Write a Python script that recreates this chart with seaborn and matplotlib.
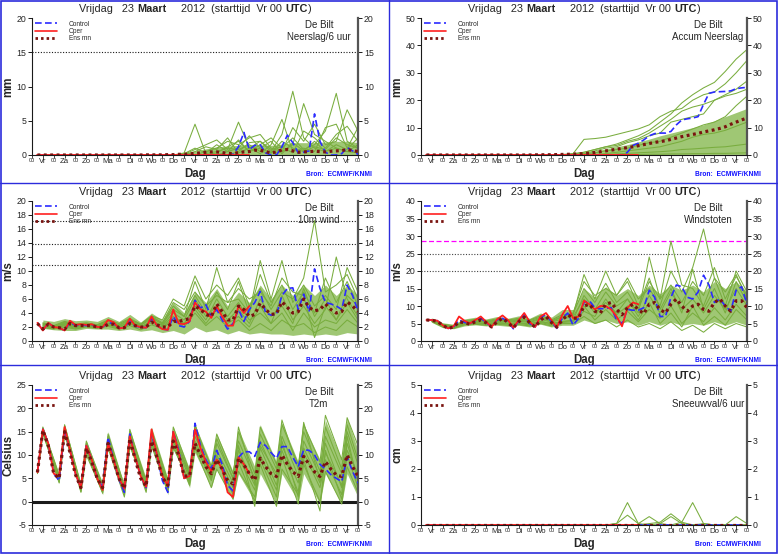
import numpy as np
import matplotlib
matplotlib.use("Agg")
import matplotlib.pyplot as plt
from matplotlib.lines import Line2D
import seaborn as sns

# --- time axes: days after Vr 23 Maart 00 UTC ---
t6 = np.arange(1, 61) * 0.25          # 6-hourly control / ens mean
t_oper = t6[:40]                       # oper only to day 10
t12 = np.arange(1, 31) * 0.5          # 12-hourly members
t_t2m = np.append(np.ravel([[d + 0.25, d + 0.5] for d in range(15)]), 15.0)  # 06/12 UTC members

days = ["Vr", "Za", "Zo", "Ma", "Di", "Wo", "Do", "Vr", "Za", "Zo", "Ma", "Di", "Wo", "Do", "Vr"]

# --- Neerslag/6 uur ---
rr_ctrl = [0] * 36 + [0.1, 1.2, 3.3, 0.8, 1.4, 1.5, 0.3, 0.0, 0.0, 1.2, 2.9, 1.8, 0.3, 0.4, 0.6, 6.0,
                      2.0, 0.4, 0.0, 0.0, 0.2, 1.1, 0.6, 0.1]
rr_oper = [0] * 40
rr_ens = [0] * 20 + [0.02] * 4 + [0.05, 0.05, 0.1, 0.1, 0.15, 0.25, 0.3, 0.4, 0.45, 0.45, 0.35, 0.25,
                                   0.2, 0.35, 0.45, 0.5, 0.7, 0.7, 0.5, 0.3, 0.45, 0.75, 0.8, 0.6,
                                   0.4, 0.45, 0.5, 0.55, 0.5, 0.45, 0.55, 0.6, 0.65, 0.8, 0.65, 0.5]
rr_lo = [0] * 30
rr_hi = [0.05] * 12 + [0.1, 0.3, 0.6, 0.9, 1.2, 1.3, 1.4, 1.5, 1.5, 1.4, 1.6, 1.8, 1.8, 1.8, 1.9, 2.0, 2.0, 1.8]
rr_members = [
    [0] * 12 + [0, 0.3, 4.5, 0.2, 0.5, 1.0, 0.8, 1.5, 0.5, 0.3, 2.0, 1.0, 0.5, 1.2, 0.8, 2.5, 1.5, 1.0],
    [0] * 12 + [0, 0.1, 0.8, 1.5, 2.2, 0.8, 4.8, 1.0, 2.0, 0.5, 3.0, 9.3, 2.5, 1.0, 0.5, 1.0, 0.5, 0.3],
    [0] * 12 + [0, 0, 0, 0.5, 1.0, 2.0, 1.5, 2.5, 3.0, 1.0, 0.5, 1.5, 7.5, 3.0, 2.0, 1.0, 0.5, 1.5],
    [0] * 12 + [0, 0, 0, 0, 0.3, 1.2, 2.0, 0.5, 1.5, 2.5, 1.0, 2.5, 0.8, 1.5, 3.5, 9.0, 2.0, 1.0],
    [0] * 12 + [0, 0, 0, 0, 0, 0.5, 1.0, 2.8, 1.0, 0.3, 0.5, 4.0, 2.0, 4.5, 1.5, 2.0, 6.6, 3.5],
    [0] * 12 + [0, 0, 0.5, 1.2, 0.8, 2.5, 0.3, 1.0, 0.2, 1.5, 5.2, 0.5, 1.0, 0.5, 4.0, 4.5, 1.0, 4.0],
    [0] * 12 + [0, 0, 0, 0, 0, 0, 0.5, 1.8, 2.0, 0.8, 1.2, 0.3, 3.5, 2.5, 1.0, 3.0, 4.2, 2.0],
    [0] * 12 + [0, 0.2, 1.0, 0.3, 1.5, 0.5, 2.2, 0.5, 1.0, 2.0, 0.2, 1.8, 0.6, 2.0, 0.5, 1.5, 0.8, 2.5],
]

# --- Accum Neerslag ---
acc_ctrl = [0] * 37 + [1.0, 3.5, 4.3, 5.5, 7.0, 7.8, 8.0, 8.0, 8.6, 11.0, 12.8, 13.2, 13.5, 14.0, 18.5,
                       22.5, 23.0, 23.1, 23.2, 23.4, 24.2, 24.5, 24.7]
acc_oper = [0] * 40
acc_ens = [0] * 20 + [0.05, 0.07, 0.08, 0.1] + [0.15, 0.2, 0.25, 0.3, 0.4, 0.5, 0.7, 0.9, 1.2, 1.5, 1.8,
                                                 2.1, 2.4, 2.7, 3.0, 3.4, 3.8, 4.2, 4.6, 4.9, 5.2, 5.7,
                                                 6.2, 6.7, 7.1, 7.5, 7.9, 8.4, 8.8, 9.2, 9.7, 10.3,
                                                 11.2, 12.0, 12.8, 13.5]
acc_lo = [0] * 30
acc_hi = [0.1] * 12 + [0.3, 0.5, 0.9, 1.5, 2.2, 3.0, 3.8, 4.8, 5.8, 7.0, 8.0, 9.0, 10.0, 11.0, 12.5, 14.0, 15.5, 17.0]
acc_members = [
    [0] * 12 + [0.2, 0.5, 1.0, 2.0, 3.0, 4.0, 5.5, 7.0, 9.0, 12.0, 15.0, 19.0, 22.0, 24.5, 26.5, 30.5, 35.0, 38.5],
    [0] * 13 + [0.5, 5.7, 6.0, 6.5, 7.5, 8.5, 9.5, 11.0, 14.0, 16.0, 17.0, 20.0, 22.0, 23.0, 26.0, 30.0, 34.5],
    [0] * 14 + [0.5, 1.5, 2.5, 3.0, 4.5, 5.5, 7.0, 8.0, 12.0, 13.0, 14.0, 15.0, 20.0, 22.0, 24.0, 27.0],
    [0] * 14 + [0.3, 0.8, 1.5, 2.0, 2.5, 3.5, 4.5, 5.0, 6.5, 8.0, 9.5, 11.0, 12.0, 14.0, 18.0, 21.5],
    [0] * 15 + [0.2, 0.5, 1.0, 1.5, 2.0, 2.5, 3.0, 4.0, 5.0, 6.5, 7.5, 8.0, 9.0, 10.5, 12.0],
    [0] * 16 + [0.2, 0.4, 0.6, 0.8, 1.0, 1.2, 1.5, 2.0, 2.2, 2.5, 2.8, 3.0, 3.5, 4.0],
    [0] * 13 + [0.3, 1.0, 2.0, 3.0, 3.5, 5.0, 6.0, 8.0, 10.5, 13.0, 16.0, 17.5, 18.5, 20.0, 21.5, 22.5, 24.0],
    [0] * 16 + [0.1, 0.1, 0.2, 0.2, 0.3, 0.3, 0.4, 0.4, 0.5, 0.5, 0.6, 0.6, 0.7, 0.8],
]

# --- 10m wind ---
ff_ctrl = [2.6, 1.5, 2.6, 2.0, 1.9, 1.5, 2.7, 2.2, 2.3, 2.2, 2.3, 2.0, 2.0, 2.6, 2.5, 1.8, 1.9, 2.8, 2.1, 2.0,
           1.9, 3.2, 2.2, 1.7, 1.6, 3.5, 2.2, 2.0, 2.8, 5.8, 4.7, 5.2, 3.5, 4.5, 3.0, 1.7, 2.5, 4.5, 2.8, 4.5,
           5.5, 7.1, 4.0, 3.7, 3.8, 6.5, 7.5, 7.6, 4.5, 6.7, 4.2, 10.3, 7.5, 5.5, 5.3, 5.0, 4.5, 8.0, 6.5, 4.3]
ff_oper = [2.6, 1.5, 2.6, 2.0, 1.9, 1.5, 2.9, 2.3, 2.4, 2.3, 2.4, 2.0, 2.0, 3.0, 2.7, 1.8, 1.9, 3.2, 2.2, 2.0,
           1.9, 3.5, 2.2, 1.7, 1.6, 4.5, 2.5, 2.4, 2.8, 5.5, 4.5, 4.2, 3.3, 5.0, 3.5, 2.2, 2.2, 5.0, 4.0, 5.0]
ff_ens = [2.5, 1.7, 2.4, 2.0, 1.9, 1.7, 2.5, 2.2, 2.2, 2.2, 2.2, 2.0, 1.9, 2.4, 2.4, 1.9, 1.9, 2.5, 2.2, 2.0,
          2.0, 2.7, 2.3, 2.0, 2.0, 2.8, 2.8, 3.0, 3.2, 5.0, 4.5, 3.8, 3.5, 5.3, 4.2, 3.0, 3.0, 5.0, 4.5, 3.5,
          3.8, 5.4, 4.5, 3.8, 3.9, 5.6, 4.8, 4.0, 4.2, 6.0, 4.8, 4.3, 4.5, 5.3, 4.5, 4.0, 4.2, 5.6, 5.0, 4.2]
ff_lo = [1.8, 1.6, 1.5, 1.5, 1.8, 1.7, 1.7, 1.5, 1.7, 1.4, 1.6, 1.2, 1.5, 1.0, 2.0, 1.3, 1.6, 1.0, 1.5, 1.0,
         1.2, 1.0, 1.0, 0.8, 1.0, 0.8, 1.0, 0.8, 1.2, 1.0]
ff_hi = [3.0, 2.8, 3.2, 2.9, 3.0, 2.8, 3.5, 2.8, 3.8, 2.7, 4.0, 3.0, 5.5, 4.0, 7.0, 5.5, 7.5, 5.0, 7.0, 5.5,
         8.0, 6.0, 8.0, 6.5, 8.0, 6.5, 8.0, 6.5, 8.0, 6.5]
ff_members = [
    [2.6, 2.2, 2.8, 2.4, 2.6, 2.3, 3.0, 2.5, 3.2, 2.4, 3.6, 3.0, 6.0, 5.0, 9.3, 6.0, 8.0, 6.5, 9.0, 5.0, 7.5, 4.5, 7.0, 6.0, 9.0, 17.2, 7.0, 8.0, 9.5, 6.0],
    [2.2, 1.9, 2.4, 2.0, 2.3, 2.1, 2.6, 2.0, 2.8, 2.2, 3.2, 2.5, 4.5, 3.5, 8.5, 4.5, 10.5, 5.5, 6.0, 4.0, 11.5, 6.0, 11.5, 5.5, 8.0, 5.0, 6.5, 4.5, 10.5, 7.0],
    [2.0, 1.7, 2.2, 1.8, 2.1, 1.9, 2.3, 1.8, 2.5, 1.9, 2.8, 2.2, 3.5, 2.5, 5.0, 3.0, 6.0, 3.5, 5.5, 3.0, 4.0, 2.5, 6.5, 3.0, 5.0, 2.5, 4.5, 12.0, 6.0, 3.5],
    [1.9, 1.8, 2.0, 1.7, 2.0, 1.8, 2.1, 1.7, 2.2, 1.6, 2.3, 1.8, 3.0, 2.0, 4.0, 2.2, 3.5, 2.0, 3.0, 1.5, 2.5, 1.5, 3.0, 2.0, 2.5, 1.2, 2.0, 1.5, 3.0, 2.0],
    [2.4, 2.0, 2.6, 2.2, 2.4, 2.2, 2.8, 2.2, 3.0, 2.3, 3.4, 2.4, 5.0, 3.5, 6.5, 4.0, 7.0, 4.5, 8.5, 4.0, 9.5, 5.5, 8.0, 4.5, 7.0, 4.0, 9.0, 5.5, 8.5, 5.0],
    [2.3, 1.9, 2.5, 2.1, 2.2, 2.0, 2.5, 2.1, 2.6, 2.0, 2.9, 2.3, 4.0, 3.0, 6.0, 3.5, 5.0, 3.0, 4.5, 2.5, 6.0, 3.5, 5.0, 2.5, 7.5, 3.5, 6.0, 3.0, 5.5, 3.0],
    [2.1, 1.8, 2.3, 1.9, 2.2, 2.0, 2.4, 1.9, 2.4, 2.0, 2.6, 2.0, 3.2, 2.5, 4.5, 2.5, 4.5, 2.5, 3.5, 2.0, 5.0, 2.5, 4.0, 1.5, 4.0, 2.0, 3.0, 2.5, 4.5, 2.5],
    [2.5, 2.1, 2.7, 2.3, 2.5, 2.3, 2.9, 2.3, 3.1, 2.4, 3.5, 2.6, 5.5, 4.5, 7.0, 5.0, 6.5, 5.5, 7.5, 6.0, 7.0, 5.0, 9.0, 7.0, 6.5, 0.5, 5.0, 3.0, 6.5, 5.0],
]

# --- Windstoten ---
fx_ctrl = [6.0, 6.0, 5.8, 4.5, 3.6, 4.0, 6.0, 5.3, 5.0, 5.8, 6.5, 5.3, 4.0, 6.0, 6.5, 5.5, 3.5, 5.8, 7.5, 5.0,
           4.0, 6.8, 7.5, 5.5, 3.6, 6.5, 8.0, 4.5, 6.5, 11.0, 11.5, 9.5, 9.2, 9.3, 9.5, 6.0, 5.0, 9.0, 8.8, 8.8,
           9.5, 14.5, 12.5, 7.0, 7.0, 12.5, 16.0, 15.5, 12.5, 12.0, 14.0, 18.8, 16.0, 11.0, 12.0, 10.0, 8.5, 14.5, 15.5, 10.5]
fx_oper = [6.0, 6.0, 5.8, 4.5, 3.6, 4.2, 7.0, 5.8, 5.0, 6.0, 7.0, 5.5, 4.0, 6.2, 7.3, 6.0, 3.8, 6.0, 8.0, 5.5,
           4.0, 7.0, 8.0, 6.0, 3.8, 7.5, 10.0, 6.5, 7.0, 11.5, 10.5, 9.0, 10.0, 10.0, 9.0, 7.0, 4.2, 9.5, 11.0, 10.5]
fx_ens = [6.0, 5.9, 5.6, 4.5, 3.6, 4.0, 5.5, 5.2, 4.8, 5.5, 6.0, 5.2, 4.0, 5.5, 6.5, 5.3, 3.8, 5.5, 6.8, 5.2,
          4.0, 6.0, 7.0, 5.3, 4.0, 6.0, 7.5, 6.5, 6.5, 10.0, 10.5, 8.5, 8.0, 10.5, 11.0, 9.0, 7.5, 9.5, 10.5, 9.0,
          7.8, 10.5, 11.0, 9.0, 8.0, 10.5, 12.0, 10.0, 8.5, 10.0, 10.5, 9.0, 8.5, 11.0, 12.0, 10.0, 8.5, 11.5, 11.5, 9.5]
fx_lo = [5.3, 3.8, 3.5, 4.3, 4.6, 4.3, 4.5, 4.2, 4.5, 4.0, 4.8, 4.0, 4.5, 4.5, 6.0, 5.0, 6.0, 5.0, 5.5, 4.5,
         5.5, 4.5, 5.5, 4.5, 5.0, 4.5, 5.5, 4.5, 5.5, 4.5]
fx_hi = [6.6, 5.2, 4.8, 6.3, 6.8, 6.3, 7.0, 6.5, 7.2, 6.5, 8.0, 6.8, 9.0, 9.0, 15.0, 12.5, 15.5, 13.0, 15.0, 13.0,
         16.0, 13.5, 16.0, 14.5, 16.0, 14.0, 17.0, 15.0, 17.0, 14.0]
fx_members = [
    [6.2, 4.8, 4.3, 5.8, 6.2, 5.8, 6.3, 6.0, 6.5, 6.0, 7.2, 6.0, 7.5, 8.0, 17.0, 13.0, 15.0, 13.0, 18.0, 12.0, 15.0, 10.0, 20.0, 14.0, 21.0, 32.0, 18.0, 14.0, 19.0, 12.0],
    [5.8, 4.4, 3.9, 5.0, 5.3, 5.0, 5.3, 5.0, 5.2, 5.0, 5.6, 5.0, 5.5, 6.0, 13.0, 9.0, 14.0, 10.0, 12.0, 8.0, 24.0, 12.0, 28.5, 16.0, 15.0, 10.0, 18.0, 10.0, 20.0, 14.0],
    [6.0, 4.6, 4.1, 5.5, 5.8, 5.5, 5.9, 5.6, 6.0, 5.5, 6.5, 5.6, 6.8, 7.5, 19.0, 12.0, 20.0, 13.0, 17.0, 10.0, 18.0, 9.0, 15.0, 8.0, 20.5, 9.0, 15.0, 8.0, 17.0, 11.0],
    [5.5, 4.0, 3.6, 4.6, 4.8, 4.5, 4.8, 4.5, 4.7, 4.3, 5.0, 4.3, 5.0, 5.0, 7.0, 5.0, 6.0, 4.0, 6.0, 4.0, 5.0, 3.5, 5.5, 3.0, 4.5, 2.5, 5.0, 3.5, 5.0, 4.0],
    [6.0, 4.6, 4.0, 5.3, 5.6, 5.3, 5.6, 5.4, 5.7, 5.3, 6.2, 5.4, 6.3, 7.0, 12.0, 8.0, 11.0, 8.0, 12.0, 7.0, 13.0, 8.0, 14.0, 9.0, 12.0, 8.0, 13.0, 9.0, 15.0, 10.0],
    [5.7, 4.3, 3.8, 4.9, 5.2, 4.9, 5.2, 5.0, 5.2, 4.8, 5.6, 4.9, 5.6, 5.8, 10.0, 6.0, 9.0, 6.0, 8.5, 5.5, 9.0, 6.5, 10.0, 5.0, 8.0, 5.5, 9.5, 6.0, 10.5, 7.0],
    [6.1, 4.7, 4.2, 5.6, 6.0, 5.6, 6.0, 5.8, 6.2, 5.8, 6.8, 5.8, 7.0, 7.8, 15.0, 11.0, 16.5, 11.0, 14.0, 9.0, 17.0, 12.0, 16.0, 11.0, 17.0, 13.0, 21.0, 12.0, 18.5, 13.0],
    [5.6, 4.2, 3.7, 4.8, 5.0, 4.7, 5.0, 4.8, 5.0, 4.6, 5.3, 4.6, 5.3, 5.5, 8.5, 7.0, 12.0, 7.5, 10.0, 6.0, 11.0, 5.0, 8.0, 4.0, 10.0, 4.5, 7.0, 4.5, 9.0, 6.0],
]

# --- T2m ---
tt_ctrl = [6.3, 15.5, 12.5, 6.0, 4.5, 15.5, 11.0, 6.0, 3.0, 12.0, 9.0, 5.0, 3.0, 13.8, 9.0, 4.8, 2.0, 14.5, 9.5, 5.5,
           3.0, 14.5, 10.0, 4.5, 2.0, 15.0, 11.0, 5.0, 5.5, 16.8, 12.0, 9.0, 7.0, 11.0, 8.0, 3.5, 2.3, 9.5, 10.7, 10.7,
           9.7, 12.7, 12.0, 10.5, 9.3, 11.8, 11.8, 9.5, 7.5, 11.1, 11.0, 10.0, 8.0, 7.0, 5.8, 5.0, 4.3, 9.5, 6.5, 4.0]
tt_oper = [6.3, 15.5, 12.5, 6.0, 5.5, 16.0, 11.0, 6.0, 3.0, 12.0, 9.0, 5.0, 2.5, 12.5, 9.0, 5.0, 2.8, 14.0, 9.5, 5.5,
           3.2, 15.5, 10.0, 5.5, 3.5, 15.0, 10.5, 5.0, 5.5, 15.5, 11.5, 8.5, 6.5, 9.0, 7.0, 2.0, 1.0, 9.5, 8.0, 6.0]
tt_ens = [6.3, 15.3, 12.0, 6.0, 5.0, 15.0, 10.5, 5.8, 3.0, 11.5, 8.5, 5.0, 3.0, 12.5, 8.8, 5.0, 2.8, 13.5, 9.0, 5.0,
          3.3, 13.0, 9.5, 5.2, 3.5, 13.0, 10.0, 5.5, 5.5, 12.5, 10.0, 7.5, 6.0, 9.0, 7.0, 4.5, 3.8, 9.3, 7.9, 6.0,
          4.6, 9.3, 7.5, 6.0, 5.4, 10.0, 8.0, 6.4, 5.4, 9.7, 8.0, 6.4, 5.4, 8.6, 7.0, 5.7, 5.4, 10.0, 7.5, 5.4]
tt_lo = [6.0, 14.5, 4.0, 14.5, 2.0, 10.0, 1.5, 11.5, 1.0, 11.5, 2.0, 12.0, 1.5, 11.5, 3.0, 10.5, 3.0, 7.0,
         0.5, 6.0, 0.0, 6.0, -0.5, 6.0, 0.0, 6.0, -0.5, 6.0, -0.5, 6.0, 1.0]
tt_hi = [6.5, 16.0, 6.0, 16.5, 4.0, 13.0, 4.0, 15.0, 3.5, 15.5, 5.0, 16.0, 5.0, 16.0, 7.0, 16.5, 8.0, 14.5,
         6.5, 15.5, 7.5, 16.5, 8.5, 17.0, 8.5, 16.5, 9.0, 17.5, 9.0, 18.0, 11.0]
tt_members = [
    [6.5, 16.0, 5.5, 16.5, 3.5, 13.0, 3.5, 14.5, 3.0, 15.5, 4.0, 15.5, 4.5, 16.0, 6.5, 16.5, 7.0, 13.5, 5.0, 15.0, 6.0, 16.0, 8.0, 17.5, 7.0, 16.5, 8.5, 18.5, 9.0, 18.0, 12.0],
    [6.2, 15.0, 4.0, 15.0, 2.0, 11.0, 2.5, 12.0, 1.5, 13.0, 2.5, 12.5, 2.5, 12.0, 4.0, 11.5, 3.0, 7.0, 0.5, 6.5, 1.0, 8.0, -1.0, 7.0, 1.5, 8.0, 0.0, 6.5, -0.5, 7.5, 2.0],
    [6.4, 15.5, 5.0, 15.8, 3.0, 12.0, 3.0, 13.5, 2.5, 14.0, 3.0, 13.5, 3.5, 14.5, 5.5, 14.0, 6.5, 11.0, 4.0, 11.0, 3.5, 13.0, 5.0, 12.0, 4.0, 13.0, 5.5, 12.5, 3.0, 11.0, 6.0],
    [6.0, 14.5, 4.5, 14.5, 2.5, 10.0, 2.0, 11.5, 1.0, 12.5, 2.0, 12.0, 2.0, 11.5, 4.5, 12.0, 5.0, 9.0, 2.0, 8.5, 0.0, 10.0, 2.5, 9.5, -0.5, 10.5, 3.0, 9.0, 1.5, 14.0, 4.0],
    [6.3, 15.8, 5.5, 16.2, 3.5, 12.5, 3.5, 14.0, 3.5, 15.0, 4.5, 14.5, 4.0, 15.0, 6.0, 15.5, 7.5, 14.5, 6.0, 13.0, 5.0, 14.5, 7.0, 16.5, 8.0, 15.0, 6.5, 16.0, 7.0, 16.5, 9.0],
    [6.1, 15.2, 4.8, 15.5, 2.8, 11.5, 2.5, 13.0, 2.0, 13.5, 3.5, 13.5, 3.0, 13.5, 5.0, 13.0, 5.5, 10.0, 3.0, 9.5, 2.5, 11.5, 3.5, 11.0, 2.0, 11.5, 4.0, 10.5, 3.5, 12.5, 5.0],
    [6.5, 15.6, 5.2, 15.2, 3.2, 12.2, 3.2, 13.8, 3.0, 14.5, 3.8, 14.2, 3.8, 13.5, 6.0, 16.5, 5.0, 12.5, 5.0, 16.0, 4.0, 12.0, 6.0, 14.0, 5.5, 17.0, 4.5, 14.0, 6.0, 15.0, 8.0],
    [6.2, 14.8, 4.2, 14.8, 2.2, 10.5, 1.8, 12.5, 1.8, 12.0, 2.8, 13.0, 2.2, 13.0, 3.5, 12.5, 4.5, 9.5, 1.5, 12.0, -1.0, 9.0, 1.0, 13.0, 1.0, 9.0, -2.0, 11.0, 0.5, 10.0, 3.0],
]

# --- Sneeuwval/6 uur ---
sn_ctrl = [0] * 60
sn_oper = [0] * 40
sn_ens = [0] * 60
sn_lo = [0] * 30
sn_hi = [0] * 30
sn_members = [
    [0] * 17 + [0.05, 0.8, 0.05, 0, 0, 0, 0.1, 0.8, 0.05, 0, 0, 0, 0],
    [0] * 17 + [0.05, 0.35, 0.05, 0.3, 0.05, 0, 0, 0, 0, 0, 0, 0, 0],
    [0] * 20 + [0.05, 0.1, 0.4, 0.1, 0, 0.05, 0, 0, 0, 0],
    [0] * 21 + [0.05, 0.3, 0.05, 0, 0, 0, 0, 0.3, 0.05],
]

# threshold lines
rr_lines = [15]
ff_lines = [10.8, 13.9, 17.2]
fx_lines = [20, 25]
fx_alarm = 28.5

GREEN = "#79ad3e"
BAND = "#9fc774"
CTRL = "#2b2bff"
OPER = "#ff2020"
ENS = "#7a1410"
FRAME = "#2c2cdc"

sns.set_theme(style="white")
plt.rcParams["font.family"] = ["Liberation Sans", "DejaVu Sans"]
plt.rcParams["axes.unicode_minus"] = False

fig = plt.figure(figsize=(7.78, 5.54), dpi=100)

colx = [32 / 778, 421 / 778]
rows = [(1 - 155 / 554, 137 / 554), (1 - 341 / 554, 140 / 554), (1 - 525 / 554, 140 / 554)]
w = 326 / 778

panels = [
    dict(tm=t12, lo=rr_lo, hi=rr_hi, mem=rr_members, ctrl=rr_ctrl, oper=rr_oper, ens=rr_ens,
         ylim=(0, 20), step=5, ylabel="mm", name="Neerslag/6 uur"),
    dict(tm=t12, lo=acc_lo, hi=acc_hi, mem=acc_members, ctrl=acc_ctrl, oper=acc_oper, ens=acc_ens,
         ylim=(0, 50), step=10, ylabel="mm", name="Accum Neerslag"),
    dict(tm=t12, lo=ff_lo, hi=ff_hi, mem=ff_members, ctrl=ff_ctrl, oper=ff_oper, ens=ff_ens,
         ylim=(0, 20), step=2, ylabel="m/s", name="10m wind"),
    dict(tm=t12, lo=fx_lo, hi=fx_hi, mem=fx_members, ctrl=fx_ctrl, oper=fx_oper, ens=fx_ens,
         ylim=(0, 40), step=5, ylabel="m/s", name="Windstoten"),
    dict(tm=t_t2m, lo=tt_lo, hi=tt_hi, mem=tt_members, ctrl=tt_ctrl, oper=tt_oper, ens=tt_ens,
         ylim=(-5, 25), step=5, ylabel="Celsius", name="T2m"),
    dict(tm=t12, lo=sn_lo, hi=sn_hi, mem=sn_members, ctrl=sn_ctrl, oper=sn_oper, ens=sn_ens,
         ylim=(0, 5), step=1, ylabel="cm", name="Sneeuwval/6 uur"),
]

title_parts = [("Vrijdag   23 ", "normal"), ("Maart", "bold"), ("     2012  (starttijd  Vr 00 ", "normal"),
               ("UTC", "bold"), (")", "normal")]

for i, p in enumerate(panels):
    r, c = divmod(i, 2)
    ax = fig.add_axes([colx[c], rows[r][0], w, rows[r][1]])

    # plume
    ax.fill_between(p["tm"], p["lo"], p["hi"], color=BAND, lw=0, zorder=1)
    for m in p["mem"]:
        sns.lineplot(x=p["tm"], y=m, ax=ax, color=GREEN, linewidth=0.75, zorder=2)

    # reference lines
    if i == 0:
        for v in rr_lines:
            ax.axhline(v, color="k", lw=0.8, ls=(0, (1, 1.5)), zorder=1.5)
    if i == 2:
        for v in ff_lines:
            ax.axhline(v, color="k", lw=0.8, ls=(0, (1, 1.5)), zorder=1.5)
    if i == 3:
        for v in fx_lines:
            ax.axhline(v, color="#444444", lw=0.8, ls=(0, (1, 1.5)), zorder=1.5)
        ax.axhline(fx_alarm, color="#ff00ff", lw=0.9, ls=(0, (4, 2)), zorder=1.5)
    if i == 4:
        ax.axhline(0, color="k", lw=2.2, zorder=1.5)

    sns.lineplot(x=t6, y=p["ctrl"], ax=ax, color=CTRL, linewidth=1.2, linestyle=(0, (4, 2)), zorder=4)
    sns.lineplot(x=t_oper, y=p["oper"], ax=ax, color=OPER, linewidth=1.3, zorder=5)
    sns.lineplot(x=t6, y=p["ens"], ax=ax, color=ENS, linewidth=2.3, linestyle=(0, (0.9, 1.1)), zorder=6)

    ax.set_xlim(0, 15)
    ax.set_ylim(*p["ylim"])
    ax.set_yticks(np.arange(p["ylim"][0], p["ylim"][1] + 0.01, p["step"]))
    ax.set_xticks(range(16), ["00"] * 16)
    ax.set_xticks(np.arange(15) + 0.5, days, minor=True)
    ax.tick_params(axis="y", which="major", left=True, right=True, labelleft=True, labelright=True,
                   length=3, width=0.7, pad=1.2, labelsize=6.3, color="k")
    ax.tick_params(axis="x", which="major", bottom=True, length=2.2, width=0.6, pad=0.3, labelsize=4.0)
    ax.tick_params(axis="x", which="minor", bottom=True, length=2.0, width=0.6, pad=0.4, labelsize=5.6)
    ax.spines["top"].set_visible(False)
    ax.spines["left"].set_color("k")
    ax.spines["left"].set_linewidth(0.8)
    ax.spines["bottom"].set_color("k")
    ax.spines["bottom"].set_linewidth(0.8)
    ax.spines["right"].set_color("#555555")
    ax.spines["right"].set_linewidth(1.6)
    ax.set_xlabel("")
    ax.set_ylabel("")
    ax.grid(False)

    # legend
    handles = [Line2D([], [], color=CTRL, lw=1.2, ls=(0, (4, 2))),
               Line2D([], [], color=OPER, lw=1.2),
               Line2D([], [], color=ENS, lw=2.0, ls=(0, (0.9, 1.1)))]
    ax.legend(handles, ["Control", "Oper", "Ens mn"], loc="upper left", frameon=False, fontsize=4.7,
              handlelength=3.4, handletextpad=1.8, labelspacing=0.05, borderaxespad=0.2, borderpad=0.2)

    # station / parameter
    ax.annotate("De Bilt\n" + p["name"], xy=(0.88, 1), xycoords="axes fraction", xytext=(0, -1.5),
                textcoords="offset points", ha="center", va="top", fontsize=7.0, linespacing=1.3)

    # title
    t = ax.annotate(title_parts[0][0], xy=(0.144, 1), xycoords="axes fraction", xytext=(0, 6.5),
                    textcoords="offset points", ha="left", va="center", fontsize=7.8,
                    fontweight=title_parts[0][1])
    for txt, wt in title_parts[1:]:
        t = ax.annotate(txt, xy=(1, 0), xycoords=t, ha="left", va="bottom", fontsize=7.8, fontweight=wt)

    ax.annotate("Dag", xy=(0.5, 0), xycoords="axes fraction", xytext=(0, -14), textcoords="offset points",
                ha="center", va="center", fontsize=8.3, fontweight="bold")
    ax.annotate(p["ylabel"], xy=(0, 0.5), xycoords="axes fraction", xytext=(-16.8, 0),
                textcoords="offset points", ha="center", va="center", rotation=90, fontsize=8.3,
                fontweight="bold")
    ax.annotate("Bron:  ECMWF/KNMI", xy=(1, 0), xycoords="axes fraction", xytext=(10, -14),
                textcoords="offset points", ha="right", va="center", fontsize=4.8, fontweight="bold",
                color="#1010ff")

# panel frames
for y in [183 / 554, 365 / 554]:
    fig.add_artist(Line2D([0, 1], [1 - y, 1 - y], color=FRAME, lw=1.0, transform=fig.transFigure))
fig.add_artist(Line2D([0.5, 0.5], [0, 1], color=FRAME, lw=1.0, transform=fig.transFigure))
fig.add_artist(plt.Rectangle((0.0008, 0.001), 0.998, 0.998, fill=False, edgecolor=FRAME, lw=1.2,
                             transform=fig.transFigure))

fig.savefig("out.png", dpi=100)
